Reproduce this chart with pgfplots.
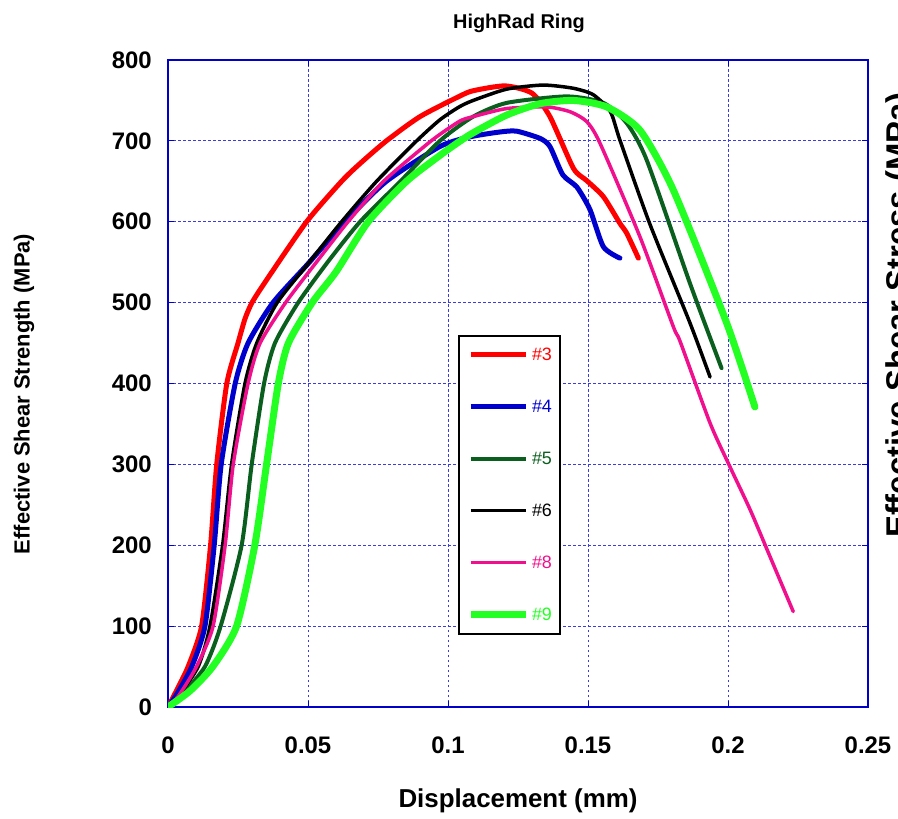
\documentclass[border=0pt]{standalone}
\usepackage{fontspec}
\setmainfont{Liberation Sans}
\usepackage{pgfplots}
\pgfplotsset{compat=1.18}
\usetikzlibrary{calc}
\definecolor{cred}{RGB}{255,0,0}
\definecolor{cblue}{RGB}{0,0,205}
\definecolor{cdkgreen}{RGB}{10,95,30}
\definecolor{cblack}{RGB}{0,0,0}
\definecolor{cpink}{RGB}{240,15,140}
\definecolor{cgreen}{RGB}{35,255,35}
\definecolor{axblue}{RGB}{0,0,200}
\definecolor{gridblue}{RGB}{60,60,225}
\begin{document}
\begin{tikzpicture}
\begin{axis}[
  name=ax, at={(0,0)}, anchor=south west,
  scale only axis, width=700bp, height=647bp,
  xmin=0, xmax=0.25, ymin=0, ymax=800,
  xtick={0,0.05,0.1,0.15,0.2,0.25},
  xticklabels={0,0.05,0.1,0.15,0.2,0.25},
  ytick={0,100,200,300,400,500,600,700,800},
  yticklabels={0,100,200,300,400,500,600,700,800},
  ticklabel style={font=\fontsize{24}{28}\selectfont\bfseries, inner sep=0pt},
  xticklabel style={yshift=-30bp},
  yticklabel style={xshift=-16bp},
  grid=major,
  major grid style={gridblue, dash pattern=on 2.5bp off 2.5bp, line width=1bp},
  axis line style={axblue, line width=1.2bp},
  tick style={axblue, line width=1bp},
  major tick length=6bp,
  tick align=inside,
  every axis plot/.append style={smooth, tension=0.4, line join=round, line cap=round},
  legend style={at={(rel axis cs:0.4143,0.575)}, anchor=north west, draw=black, line width=2bp, fill=white,
    inner xsep=8bp, inner ysep=12bp, row sep=38bp, column sep=3bp,
    nodes={inner sep=0pt, font=\fontsize{18}{20}\selectfont}},
  legend cell align=left,
  legend image code/.code={\draw[#1, line cap=butt] (0bp,0bp) -- (55bp,0bp);},
]
\addplot[cred, line width=5bp] coordinates {
(0,0)(0.003,20)(0.0072,50)(0.012,100)(0.0152,200)(0.0174,300)(0.021,400)(0.025,450)(0.0275,480)(0.030,500)(0.035,527)(0.0495,600)(0.062,650)(0.0686,672)(0.078,700)(0.09,730)(0.104,755)(0.109,762)(0.1204,768)(0.130,759)(0.1364,730)(0.1448,666)(0.1495,651)(0.1555,631)(0.1614,598)(0.1638,586)(0.168,555)};
\addlegendentry{\textcolor{cred}{\#3}}
\addplot[cblue, line width=5bp] coordinates {
(0,0)(0.003,15)(0.0085,50)(0.0132,100)(0.0165,200)(0.019,300)(0.024,400)(0.0286,450)(0.0375,500)(0.05,548)(0.0632,600)(0.078,650)(0.0971,693)(0.1079,705)(0.1186,711)(0.1245,712)(0.1329,703)(0.1364,693)(0.141,658)(0.146,643)(0.1507,615)(0.1555,569)(0.1614,555)};
\addlegendentry{\textcolor{cblue}{\#4}}
\addplot[cdkgreen, line width=4bp] coordinates {
(0,0)(0.005,15)(0.0132,50)(0.0188,100)(0.0263,200)(0.0299,300)(0.0343,400)(0.0382,450)(0.0465,500)(0.057,550)(0.0686,600)(0.083,650)(0.0971,700)(0.109,730)(0.121,747)(0.1424,755)(0.1555,747)(0.1638,722)(0.171,676)(0.1864,524)(0.1977,419)};
\addlegendentry{\textcolor{cdkgreen}{\#5}}
\addplot[cblack, line width=3.5bp] coordinates {
(0,0)(0.004,15)(0.0108,50)(0.015,100)(0.0195,200)(0.0227,300)(0.0275,400)(0.0317,450)(0.039,500)(0.05,548)(0.062,600)(0.0745,650)(0.0888,700)(0.0971,726)(0.104,742)(0.109,750)(0.121,764)(0.134,769)(0.1448,765)(0.1519,757)(0.158,736)(0.1614,701)(0.172,598)(0.1864,475)(0.1936,408)};
\addlegendentry{\textcolor{cblack}{\#6}}
\addplot[cpink, line width=3.5bp] coordinates {
(0,0)(0.004,15)(0.0102,50)(0.0161,100)(0.0204,200)(0.0233,300)(0.0286,400)(0.0329,450)(0.042,500)(0.053,550)(0.0643,600)(0.077,650)(0.094,700)(0.104,724)(0.109,730)(0.121,740)(0.1352,742)(0.1436,736)(0.1495,724)(0.1543,697)(0.1686,581)(0.1805,470)(0.1829,452)(0.1936,351)(0.2007,297)(0.2079,244)(0.215,186)(0.2233,118)};
\addlegendentry{\textcolor{cpink}{\#8}}
\addplot[cgreen, line width=7bp] coordinates {
(0,0)(0.0079,20)(0.016,50)(0.0245,100)(0.031,200)(0.0352,300)(0.0394,400)(0.043,450)(0.0515,500)(0.06,538)(0.0715,600)(0.0852,650)(0.0971,682)(0.104,699)(0.109,710)(0.121,732)(0.1329,746)(0.1448,750)(0.1567,742)(0.1686,713)(0.1805,639)(0.1995,475)(0.2096,371)};
\addlegendentry{\textcolor{cgreen}{\#9}}
\end{axis}
\node[font=\fontsize{20}{24}\selectfont\bfseries] at ($(ax.north west)+(351bp,37bp)$) {HighRad Ring};
\node[font=\fontsize{26}{30}\selectfont\bfseries] at ($(ax.south west)+(350bp,-94bp)$) {Displacement (mm)};
\node[font=\fontsize{22}{26}\selectfont\bfseries, rotate=90] at ($(ax.south west)+(-144bp,313bp)$) {Effective Shear Strength (MPa)};
\node[font=\fontsize{33}{38}\selectfont\bfseries, rotate=90, anchor=north, inner sep=0pt] at ($(ax.south east)+(17bp,392bp)$) {Effective Shear Stress (MPa)};
\pgfresetboundingbox
\useasboundingbox ($(ax.south west)+(-168bp,-112bp)$) rectangle ($(ax.north east)+(30bp,60bp)$);
\end{tikzpicture}
\end{document}
